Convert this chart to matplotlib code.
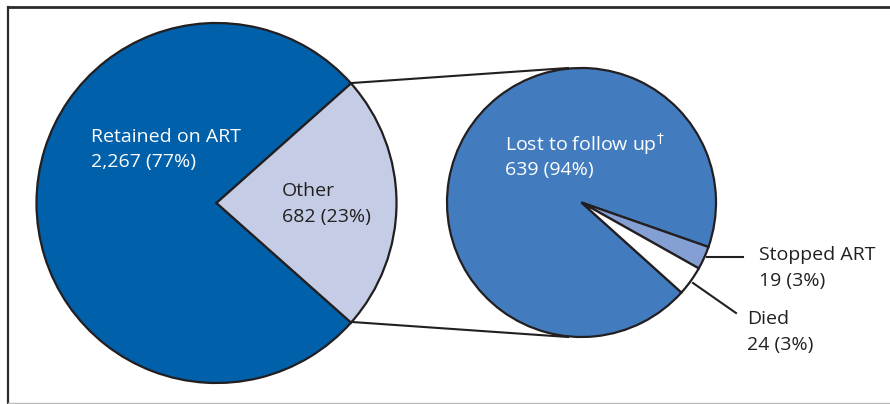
import matplotlib.pyplot as plt

# main split
main_labels = ["Retained on ART", "Other"]
main_counts = [2267, 682]
main_pcts = [77, 23]

# breakdown of "Other"
sub_labels = ["Lost to follow up$^{\\dagger}$", "Stopped ART", "Died"]
sub_counts = [639, 19, 24]
sub_pcts = [94, 3, 3]

H = 404  # figure height in px, y is flipped so we can read pixel rows off the picture


def fy(py):
    return H - py


plt.rcParams['font.family'] = ['Open Sans', 'DejaVu Sans']

fig = plt.figure(figsize=(8.9, 4.04), dpi=100)
ax = fig.add_axes([0, 0, 1, 1])

edge = dict(edgecolor='#231f20', linewidth=1.6)

# left pie, "Other" wedge centred on the right
frac_other = main_counts[1] / sum(main_counts)
ax.pie(main_counts, colors=['#0060a9', '#c5cde6'], center=(216.5, fy(203)), radius=180,
       startangle=frac_other * 180, counterclock=True, wedgeprops=edge)

# right pie, small slices end at about -42 deg
died_end = -42.0
ax.pie(sub_counts, colors=['#437cbe', '#839fd4', 'white'], center=(581.5, fy(202.5)), radius=134.5,
       startangle=died_end + 360, counterclock=False, wedgeprops=edge)

# connector lines between the pies
ax.plot([352, 568], [fy(83), fy(68)], color='#231f20', lw=1.5)
ax.plot([352, 568], [fy(322), fy(337)], color='#231f20', lw=1.5)

# leader lines for small slices
ax.plot([707, 743], [fy(257), fy(257)], color='#231f20', lw=1.5)
ax.plot([693, 736], [fy(283), fy(313)], color='#231f20', lw=1.5)

fs = 14
ax.text(91, fy(137), main_labels[0], color='white', fontsize=fs, va='center')
ax.text(91, fy(162), f"{main_counts[0]:,} ({main_pcts[0]}%)", color='white', fontsize=fs, va='center')
ax.text(282, fy(191), main_labels[1], color='#231f20', fontsize=fs, va='center')
ax.text(282, fy(217), f"{main_counts[1]:,} ({main_pcts[1]}%)", color='#231f20', fontsize=fs, va='center')

ax.text(505, fy(144), sub_labels[0], color='white', fontsize=fs, va='center')
ax.text(505, fy(170), f"{sub_counts[0]} ({sub_pcts[0]}%)", color='white', fontsize=fs, va='center')
ax.text(759, fy(255), sub_labels[1], color='#231f20', fontsize=fs, va='center')
ax.text(759, fy(281), f"{sub_counts[1]} ({sub_pcts[1]}%)", color='#231f20', fontsize=fs, va='center')
ax.text(747, fy(319), sub_labels[2], color='#231f20', fontsize=fs, va='center')
ax.text(747, fy(345), f"{sub_counts[2]} ({sub_pcts[2]}%)", color='#231f20', fontsize=fs, va='center')

# frame
ax.plot([7.5, 890], [fy(6.5), fy(6.5)], color='#2b2b2b', lw=2.0)
ax.plot([7.5, 7.5], [fy(6.5), 0], color='#2b2b2b', lw=1.6)
ax.plot([7.5, 890], [fy(403), fy(403)], color='#bbbbbb', lw=1)

ax.set_xlim(0, 890)
ax.set_ylim(0, H)
ax.set_aspect('auto')
ax.axis('off')

fig.savefig('out.png', dpi=100)
